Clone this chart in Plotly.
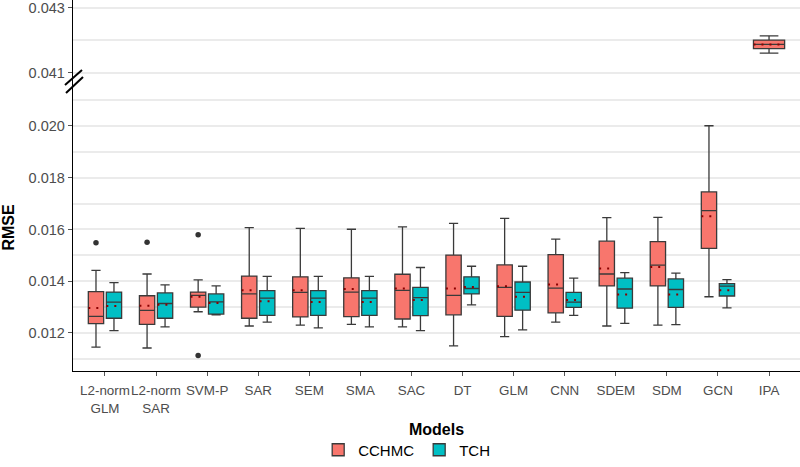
import numpy as np
import plotly.graph_objects as go

# ---------------- data ----------------
categories = ["L2-norm<br>GLM", "L2-norm<br>SAR", "SVM-P", "SAR", "SEM", "SMA", "SAC",
              "DT", "GLM", "CNN", "SDEM", "SDM", "GCN", "IPA"]

# CCHMC (all 14 models; the last one, IPA, sits in the upper panel)
cchmc_low = [0.01145, 0.01142, 0.01282, 0.01227, 0.01230, 0.01233, 0.01224, 0.01150, 0.01186, 0.01242, 0.01227, 0.01230, 0.01340, 0.04161]
cchmc_q1 = [0.01236, 0.01233, 0.01300, 0.01257, 0.01262, 0.01263, 0.01254, 0.01270, 0.01264, 0.01278, 0.01382, 0.01382, 0.01527, 0.04175]
cchmc_med = [0.01264, 0.01287, 0.01345, 0.01351, 0.01357, 0.01358, 0.01365, 0.01345, 0.01376, 0.01373, 0.01428, 0.01462, 0.01673, 0.04188]
cchmc_q3 = [0.01360, 0.01344, 0.01358, 0.01420, 0.01417, 0.01413, 0.01427, 0.01501, 0.01463, 0.01503, 0.01555, 0.01553, 0.01745, 0.04201]
cchmc_up = [0.01442, 0.01428, 0.01405, 0.01607, 0.01604, 0.01601, 0.01610, 0.01624, 0.01643, 0.01563, 0.01646, 0.01647, 0.02001, 0.04214]
cchmc_mean = [0.01297, 0.01305, 0.01340, 0.01365, 0.01365, 0.01370, 0.01372, 0.01372, 0.01381, 0.01387, 0.01449, 0.01455, 0.01651, 0.04187]

# TCH (first 13 models)
tch_low = [0.01209, 0.01224, 0.01270, 0.01242, 0.01220, 0.01224, 0.01209, 0.01309, 0.01212, 0.01268, 0.01237, 0.01232, 0.01297]
tch_q1 = [0.01257, 0.01257, 0.01273, 0.01268, 0.01268, 0.01268, 0.01267, 0.01351, 0.01288, 0.01299, 0.01296, 0.01299, 0.01343]
tch_med = [0.01319, 0.01314, 0.01320, 0.01335, 0.01335, 0.01335, 0.01337, 0.01372, 0.01357, 0.01319, 0.01370, 0.01368, 0.01381]
tch_q3 = [0.01358, 0.01355, 0.01351, 0.01364, 0.01364, 0.01364, 0.01376, 0.01417, 0.01397, 0.01357, 0.01412, 0.01409, 0.01391]
tch_up = [0.01395, 0.01386, 0.01382, 0.01419, 0.01419, 0.01419, 0.01453, 0.01458, 0.01458, 0.01412, 0.01433, 0.01431, 0.01406]
tch_mean = [0.01304, 0.01309, 0.01316, 0.01323, 0.01320, 0.01320, 0.01327, 0.01378, 0.01340, 0.01327, 0.01349, 0.01349, 0.01365]

# CCHMC outliers
outlier_idx = [0, 1, 2, 2]
outlier_val = [0.01549, 0.01551, 0.01580, 0.01113]

low_ticks = [0.012, 0.014, 0.016, 0.018, 0.020]
high_ticks = [0.041, 0.043]

# ---------------- styling ----------------
C_CCHMC = "#F8766D"
C_TCH = "#00BFC4"
EDGE = "#3a3a3a"
GRID = "#ebebeb"
FONT = "Liberation Sans, Arial, sans-serif"

pos = np.arange(1, len(categories) + 1, dtype=float)
dodge = 0.176
bw = 0.30
n_low = len(tch_low)

p_c = pos[:n_low] - dodge
p_t = pos[:n_low] + dodge
p_ipa = pos[n_low:]
w_ipa = 0.61

fig = go.Figure()

box_common = dict(boxpoints=False, line=dict(color=EDGE, width=1.3), whiskerwidth=0.6,
                  hoverinfo="skip", boxmean=False)

fig.add_trace(go.Box(name="CCHMC", legendgroup="CCHMC", x=p_c,
                     lowerfence=cchmc_low[:n_low], q1=cchmc_q1[:n_low], median=cchmc_med[:n_low],
                     q3=cchmc_q3[:n_low], upperfence=cchmc_up[:n_low],
                     fillcolor=C_CCHMC, width=bw, xaxis="x", yaxis="y", **box_common))
fig.add_trace(go.Box(name="TCH", legendgroup="TCH", x=p_t,
                     lowerfence=tch_low, q1=tch_q1, median=tch_med, q3=tch_q3, upperfence=tch_up,
                     fillcolor=C_TCH, width=bw, xaxis="x", yaxis="y", **box_common))
fig.add_trace(go.Box(name="CCHMC", legendgroup="CCHMC", showlegend=False, x=p_ipa,
                     lowerfence=cchmc_low[n_low:], q1=cchmc_q1[n_low:], median=cchmc_med[n_low:],
                     q3=cchmc_q3[n_low:], upperfence=cchmc_up[n_low:],
                     fillcolor=C_CCHMC, width=w_ipa, xaxis="x", yaxis="y2", **box_common))


def mean_segments(centers, means, width):
    xs, ys = [], []
    for c, m in zip(centers, means):
        xs += [c - width / 2, c + width / 2, None]
        ys += [m, m, None]
    return xs, ys


mean_line = dict(color="#8B0000", width=2, dash="2px,6px")
xs, ys = mean_segments(list(p_c) + list(p_t), cchmc_mean[:n_low] + tch_mean, bw)
fig.add_trace(go.Scatter(x=xs, y=ys, mode="lines", line=mean_line, showlegend=False,
                         hoverinfo="skip", xaxis="x", yaxis="y"))
xs, ys = mean_segments(p_ipa, cchmc_mean[n_low:], w_ipa)
fig.add_trace(go.Scatter(x=xs, y=ys, mode="lines", line=mean_line, showlegend=False,
                         hoverinfo="skip", xaxis="x", yaxis="y2"))

fig.add_trace(go.Scatter(x=[pos[i] - dodge for i in outlier_idx], y=outlier_val, mode="markers",
                         marker=dict(color="#333333", size=5.5), showlegend=False,
                         hoverinfo="skip", xaxis="x", yaxis="y"))

# ---------------- layout ----------------
split = 0.7736
tickfont_y = dict(family=FONT, size=14.5, color="#4d4d4d")
minor_grid = dict(tickmode="linear", tick0=0, dtick=0.001, showgrid=True,
                  gridcolor=GRID, gridwidth=1.5, ticks="")

fig.update_layout(
    width=800, height=467,
    margin=dict(l=73, r=0, t=0, b=96, autoexpand=False),
    paper_bgcolor="white", plot_bgcolor="white",
    font=dict(family=FONT, color="black"),
    boxmode="overlay",
    showlegend=True,
    legend=dict(orientation="h", x=0.459, xanchor="center", y=-0.213, yanchor="middle",
                font=dict(family=FONT, size=15, color="black"), itemwidth=30,
                bgcolor="rgba(0,0,0,0)"),
    xaxis=dict(range=[0.374, 14.606], tickmode="array", tickvals=pos, ticktext=categories,
               tickangle=0, automargin=False, ticklabelstandoff=3,
               showgrid=False, zeroline=False, showline=True, linecolor="black", linewidth=1.4,
               ticks="outside", ticklen=4, tickcolor="#555555", tickwidth=1.2,
               tickfont=dict(family=FONT, size=13.4, color="#4d4d4d"),
               title=dict(text="Models", font=dict(family=FONT, size=16, color="black", weight="bold"),
                          standoff=9),
               anchor="y"),
    yaxis=dict(domain=[0, split], range=[0.010531, 0.021623], tickmode="array", tickvals=low_ticks,
               ticktext=[f"{v:.3f}" for v in low_ticks], showgrid=True, gridcolor=GRID, gridwidth=1.5,
               minor=minor_grid, zeroline=False, showline=True, linecolor="black", linewidth=1.4,
               ticks="outside", ticklen=4, tickcolor="#555555", tickwidth=1.2, tickfont=tickfont_y,
               automargin=False, ticklabeloverflow="allow",
               title=dict(text="RMSE", font=dict(family=FONT, size=16, color="black", weight="bold"),
                          standoff=10),
               anchor="x"),
    yaxis2=dict(domain=[split, 1], range=[0.040662, 0.043239], tickmode="array", tickvals=high_ticks,
                ticktext=[f"{v:.3f}" for v in high_ticks], showgrid=True, gridcolor=GRID, gridwidth=1.5,
                minor=minor_grid, zeroline=False, showline=True, linecolor="black", linewidth=1.4,
                ticks="outside", ticklen=4, tickcolor="#555555", tickwidth=1.2, tickfont=tickfont_y,
                automargin=False, ticklabeloverflow="allow", anchor="x"),
)

# axis-break marks on the left axis
brk_y = (371 - 80) / 371
for (x0, y0, x1, y1) in [(-8, -5, 9, 10), (-7, -13, 10, 3)]:
    fig.add_shape(type="line", xref="paper", yref="paper", xsizemode="pixel", ysizemode="pixel",
                  xanchor=0, yanchor=brk_y, x0=x0, y0=y0, x1=x1, y1=y1,
                  line=dict(color="black", width=2))

fig.write_html("out.html", config={"displayModeBar": False},
               post_script="document.body.style.margin='0px';")
